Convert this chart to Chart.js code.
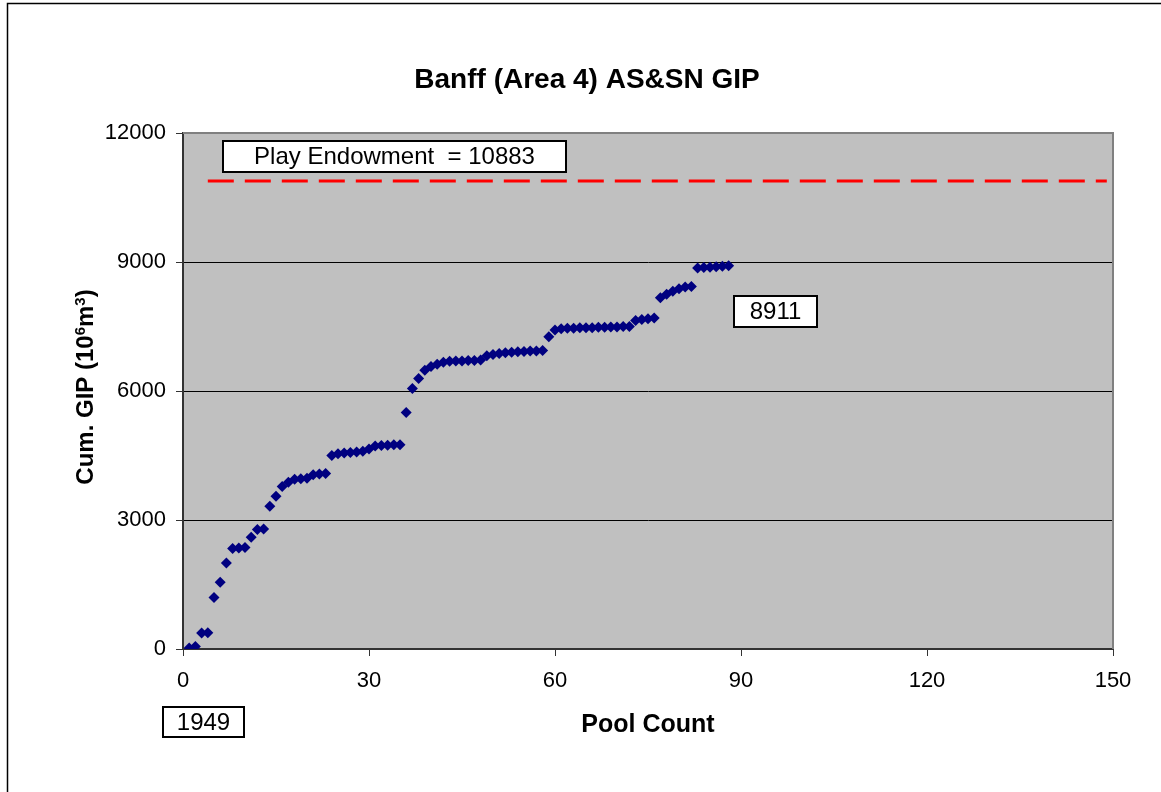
<!DOCTYPE html>
<html>
<head>
<meta charset="utf-8">
<script src="https://cdn.jsdelivr.net/npm/chart.js@4"></script>
<style>
  html, body { margin: 0; padding: 0; background: #fff; }
  #wrap { width: 1161px; height: 792px; position: relative; }
</style>
</head>
<body>
<div id="wrap"><canvas id="chart"></canvas></div>
<script>
// pool count (x) and cumulative GIP (y)
const poolCount = [];
for (let i = 1; i <= 88; i++) poolCount.push(i);
const cumGip = [
  25, 60, 370, 380, 1200, 1550, 2000, 2340, 2350, 2360,
  2600, 2780, 2790, 3320, 3550, 3780, 3880, 3950, 3960, 3970,
  4050, 4070, 4080, 4500, 4540, 4560, 4570, 4580, 4600, 4650,
  4720, 4730, 4740, 4750, 4750, 5500, 6060, 6290, 6480, 6570,
  6620, 6670, 6690, 6700, 6700, 6710, 6710, 6720, 6820, 6850,
  6870, 6890, 6900, 6910, 6920, 6930, 6930, 6940, 7260, 7420,
  7450, 7460, 7460, 7470, 7470, 7470, 7480, 7480, 7490, 7490,
  7500, 7500, 7640, 7660, 7680, 7700, 8170, 8250, 8320, 8380,
  8420, 8430, 8860, 8870, 8880, 8890, 8900, 8911
];
const endowX = [4, 149];
const endowY = [10883, 10883];
const xTicks = [0, 30, 60, 90, 120, 150];
const yTicks = [0, 3000, 6000, 9000, 12000];

const chartTitle = 'Banff (Area 4) AS&SN GIP';
const xTitle = 'Pool Count';
const endowLabel = 'Play Endowment  = 10883';
const lastLabel = '8911';
const yearLabel = '1949';

const FONT = '"Liberation Sans", Arial, sans-serif';

const points = poolCount.map((x, i) => ({ x: x, y: cumGip[i] }));
const endowLine = endowX.map((x, i) => ({ x: x, y: endowY[i] }));

function textBox(ctx, txt, x1, y1, x2, y2) {
  ctx.save();
  ctx.fillStyle = '#fff';
  ctx.fillRect(x1, y1, x2 - x1, y2 - y1);
  ctx.strokeStyle = '#000';
  ctx.lineWidth = 2;
  ctx.strokeRect(x1, y1, x2 - x1, y2 - y1);
  ctx.fillStyle = '#000';
  ctx.font = '24px ' + FONT;
  ctx.textAlign = 'center';
  ctx.textBaseline = 'middle';
  ctx.fillText(txt, (x1 + x2) / 2, (y1 + y2) / 2 + 1);
  ctx.restore();
}

const decor = {
  id: 'decor',
  beforeDraw(chart) {
    const { ctx, chartArea: a } = chart;
    ctx.save();
    ctx.fillStyle = '#fff';
    ctx.fillRect(0, 0, chart.width, chart.height);
    ctx.strokeStyle = '#000';
    ctx.lineWidth = 1.5;
    ctx.strokeRect(7.5, 3.5, chart.width + 10, chart.height + 10);
    ctx.fillStyle = '#C0C0C0';
    ctx.fillRect(a.left, a.top, a.right - a.left, a.bottom - a.top);
    ctx.restore();
  },
  afterDatasetsDraw(chart) {
    const { ctx, chartArea: a } = chart;
    ctx.save();
    // plot frame (top/right grey)
    ctx.strokeStyle = '#808080';
    ctx.lineWidth = 2;
    ctx.beginPath();
    ctx.moveTo(a.left, a.top);
    ctx.lineTo(a.right, a.top);
    ctx.lineTo(a.right, a.bottom);
    ctx.stroke();

    // title
    ctx.fillStyle = '#000';
    ctx.textAlign = 'center';
    ctx.textBaseline = 'middle';
    ctx.font = 'bold 28px ' + FONT;
    ctx.fillText(chartTitle, 587, 80);

    // x title
    ctx.font = 'bold 25px ' + FONT;
    ctx.fillText(xTitle, 648, 725);

    // y title with superscripts
    const parts = [
      ['Cum. GIP (10', 24, 0],
      ['6', 15, -8],
      ['m', 24, 0],
      ['3', 15, -8],
      [')', 24, 0]
    ];
    let total = 0;
    parts.forEach(p => { ctx.font = 'bold ' + p[1] + 'px ' + FONT; total += ctx.measureText(p[0]).width; });
    ctx.translate(84, 387);
    ctx.rotate(-Math.PI / 2);
    ctx.textAlign = 'left';
    ctx.textBaseline = 'alphabetic';
    let cx = -total / 2;
    parts.forEach(p => {
      ctx.font = 'bold ' + p[1] + 'px ' + FONT;
      ctx.fillText(p[0], cx, 9 + p[2]);
      cx += ctx.measureText(p[0]).width;
    });
    ctx.restore();

    textBox(ctx, endowLabel, 223, 141, 566, 172);
    textBox(ctx, lastLabel, 734, 296, 817, 327);
    textBox(ctx, yearLabel, 163, 707, 244, 737);
  }
};

new Chart(document.getElementById('chart'), {
  type: 'scatter',
  data: {
    datasets: [
      {
        label: 'Cum. GIP',
        data: points,
        pointStyle: 'rectRot',
        pointRadius: 5.5,
        pointBorderWidth: 0,
        backgroundColor: '#000080',
        borderColor: '#000080'
      },
      {
        type: 'line',
        label: 'Play Endowment',
        data: endowLine,
        borderColor: '#FF0000',
        borderWidth: 3,
        borderDash: [26, 11],
        pointRadius: 0,
        fill: false
      }
    ]
  },
  options: {
    responsive: true,
    maintainAspectRatio: false,
    animation: false,
    layout: { padding: { top: 133, right: 48, left: 0, bottom: 0 } },
    plugins: {
      legend: { display: false },
      tooltip: { enabled: false }
    },
    scales: {
      x: {
        type: 'linear',
        min: 0,
        max: 150,
        afterBuildTicks: s => { s.ticks = xTicks.map(v => ({ value: v })); },
        afterFit: s => { s.height = 792 - 649; },
        border: { color: '#333', width: 2 },
        grid: { drawOnChartArea: false, drawTicks: true, tickLength: 7, color: '#333' },
        ticks: { color: '#000', font: { family: FONT, size: 22 }, padding: 12, maxRotation: 0 }
      },
      y: {
        min: 0,
        max: 12000,
        afterBuildTicks: s => { s.ticks = yTicks.map(v => ({ value: v })); },
        afterFit: s => { s.width = 183; },
        border: { color: '#333', width: 2 },
        grid: {
          color: c => (c.tick && (c.tick.value === 0 || c.tick.value === 12000)) ? '#808080' : '#000',
          lineWidth: 1,
          tickLength: 7,
          tickColor: '#333'
        },
        ticks: { color: '#000', font: { family: FONT, size: 22 }, padding: 10, callback: v => String(v) }
      }
    }
  },
  plugins: [decor]
});
</script>
</body>
</html>
